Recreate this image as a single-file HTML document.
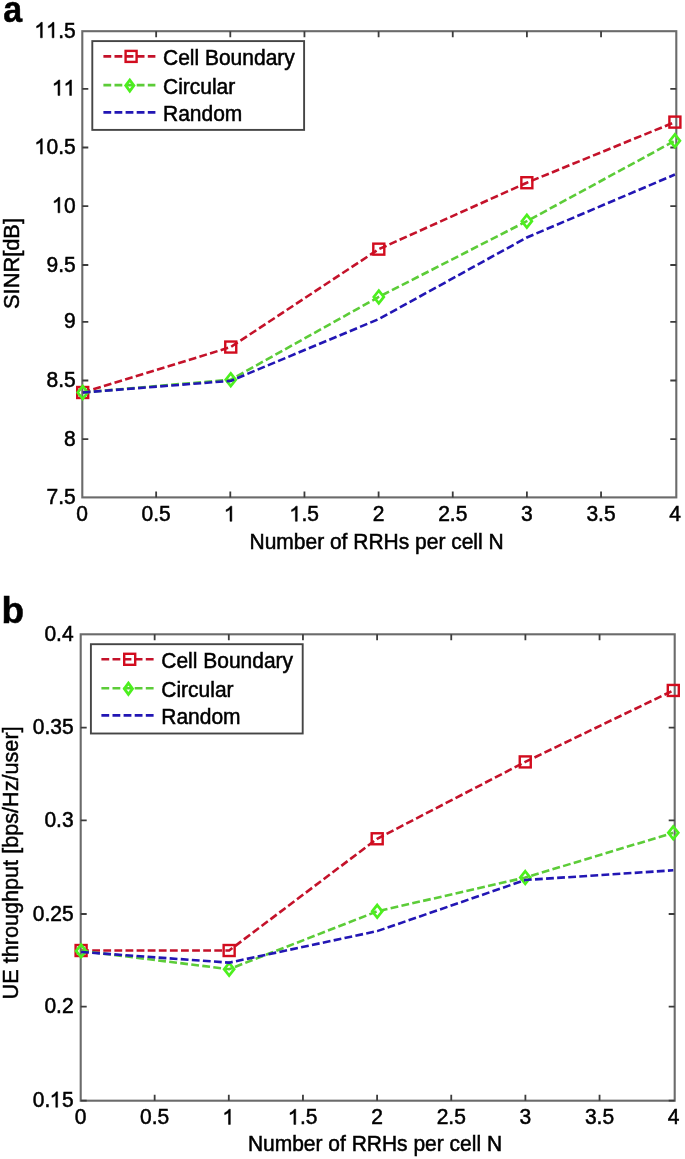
<!DOCTYPE html>
<html><head><meta charset="utf-8"><style>
html,body{margin:0;padding:0;background:#fff;}
body{width:685px;height:1159px;overflow:hidden;}
svg{display:block;filter:blur(0.3px);font-family:"Liberation Sans",sans-serif;font-kerning:none;}
text{fill:#000;stroke:#000;stroke-width:0.5px;}
text .h{fill:none;stroke:none;}
.g1{fill:#000;stroke:#000;stroke-width:0.5px;}
</style></head><body>
<svg width="685" height="1159" viewBox="0 0 685 1159">
<rect width="685" height="1159" fill="#fff"/>
<rect x="82.3" y="31.2" width="594" height="466.2" fill="none" stroke="#6b6b6b" stroke-width="2.1"/>
<path d="M156.15 497.4V491.4M156.15 31.2V37.2M230.3 497.4V491.4M230.3 31.2V37.2M304.45 497.4V491.4M304.45 31.2V37.2M378.6 497.4V491.4M378.6 31.2V37.2M452.75 497.4V491.4M452.75 31.2V37.2M526.9 497.4V491.4M526.9 31.2V37.2M601.05 497.4V491.4M601.05 31.2V37.2M82.3 439.2H88.3M676.3 439.2H670.3M82.3 380.5H88.3M676.3 380.5H670.3M82.3 321.9H88.3M676.3 321.9H670.3M82.3 265H88.3M676.3 265H670.3M82.3 206.2H88.3M676.3 206.2H670.3M82.3 147.5H88.3M676.3 147.5H670.3M82.3 88.8H88.3M676.3 88.8H670.3" stroke="#3c3c3c" stroke-width="1.8" fill="none"/>
<polyline points="82.7,392.5 230.75,347.05 378.8,249.15 526.85,182.72 674.9,122.11" fill="none" stroke="#c4122a" stroke-width="2.6" stroke-dasharray="7.8 3.3"/>
<rect x="77.2" y="387" width="11" height="11" fill="none" stroke="#d20c1e" stroke-width="2.4"/>
<rect x="225.25" y="341.55" width="11" height="11" fill="none" stroke="#d20c1e" stroke-width="2.4"/>
<rect x="373.3" y="243.65" width="11" height="11" fill="none" stroke="#d20c1e" stroke-width="2.4"/>
<rect x="521.35" y="177.22" width="11" height="11" fill="none" stroke="#d20c1e" stroke-width="2.4"/>
<rect x="669.4" y="116.61" width="11" height="11" fill="none" stroke="#d20c1e" stroke-width="2.4"/>
<polyline points="82.7,392.5 230.75,379.68 378.8,296.93 526.85,221.18 674.9,140.76" fill="none" stroke="#5ccc38" stroke-width="2.6" stroke-dasharray="7.8 3.3"/>
<path d="M82.7 386.2L87.7 392.5L82.7 398.8L77.7 392.5Z" fill="none" stroke="#4cf01e" stroke-width="2.7" stroke-linejoin="miter"/>
<path d="M230.75 373.38L235.75 379.68L230.75 385.98L225.75 379.68Z" fill="none" stroke="#4cf01e" stroke-width="2.7" stroke-linejoin="miter"/>
<path d="M378.8 290.63L383.8 296.93L378.8 303.23L373.8 296.93Z" fill="none" stroke="#4cf01e" stroke-width="2.7" stroke-linejoin="miter"/>
<path d="M526.85 214.88L531.85 221.18L526.85 227.48L521.85 221.18Z" fill="none" stroke="#4cf01e" stroke-width="2.7" stroke-linejoin="miter"/>
<path d="M674.9 134.46L679.9 140.76L674.9 147.06L669.9 140.76Z" fill="none" stroke="#4cf01e" stroke-width="2.7" stroke-linejoin="miter"/>
<polyline points="82.7,392.5 230.75,380.85 378.8,319.08 526.85,237.49 674.9,174.56" fill="none" stroke="#2216b4" stroke-width="2.6" stroke-dasharray="7.8 3.3"/>
<text x="76.16" y="496.48" transform="scale(1,1.05)" font-size="21">0</text>
<text x="141.55" y="496.48" transform="scale(1,1.05)" font-size="21">0.5</text>
<text x="224.46" y="496.48" transform="scale(1,1.05)" font-size="21"><tspan class="h">1</tspan></text><path class="g1" d="M231.84 521.3H230V509.35Q229.33 510 228.31 510.62Q227.28 511.23 226.15 511.56V509.73Q227.79 508.97 228.92 507.95Q230.05 506.93 230.56 506.13H231.84Z"/>
<text x="289.85" y="496.48" transform="scale(1,1.05)" font-size="21"><tspan class="h">1</tspan>.5</text><path class="g1" d="M297.24 521.3H295.39V509.35Q294.72 510 293.7 510.62Q292.67 511.23 291.55 511.56V509.73Q293.19 508.97 294.31 507.95Q295.44 506.93 295.95 506.13H297.24Z"/>
<text x="372.76" y="496.48" transform="scale(1,1.05)" font-size="21">2</text>
<text x="438.15" y="496.48" transform="scale(1,1.05)" font-size="21">2.5</text>
<text x="521.06" y="496.48" transform="scale(1,1.05)" font-size="21">3</text>
<text x="586.45" y="496.48" transform="scale(1,1.05)" font-size="21">3.5</text>
<text x="669.36" y="496.48" transform="scale(1,1.05)" font-size="21">4</text>
<text x="46.61" y="471.03" transform="scale(1,1.07)" font-size="21">7.5</text>
<text x="64.12" y="416.64" transform="scale(1,1.07)" font-size="21">8</text>
<text x="46.61" y="361.78" transform="scale(1,1.07)" font-size="21">8.5</text>
<text x="64.12" y="307.01" transform="scale(1,1.07)" font-size="21">9</text>
<text x="46.61" y="253.83" transform="scale(1,1.07)" font-size="21">9.5</text>
<text x="52.44" y="198.88" transform="scale(1,1.07)" font-size="21"><tspan class="h">1</tspan>0</text><path class="g1" d="M59.82 212.8H57.98V200.62Q57.31 201.28 56.29 201.92Q55.26 202.54 54.13 202.87V201.01Q55.77 200.24 56.9 199.2Q58.03 198.15 58.54 197.34H59.82Z"/>
<text x="34.93" y="144.02" transform="scale(1,1.07)" font-size="21"><tspan class="h">1</tspan>0.5</text><path class="g1" d="M42.31 154.1H40.47V141.92Q39.8 142.58 38.77 143.22Q37.75 143.84 36.62 144.17V142.31Q38.26 141.54 39.39 140.5Q40.52 139.45 41.03 138.64H42.31Z"/>
<text x="52.44" y="89.16" transform="scale(1,1.07)" font-size="21"><tspan class="h">1</tspan><tspan class="h">1</tspan></text><path class="g1" d="M59.82 95.4H57.98V83.22Q57.31 83.88 56.29 84.52Q55.26 85.14 54.13 85.47V83.61Q55.77 82.84 56.9 81.8Q58.03 80.75 58.54 79.94H59.82Z"/><path class="g1" d="M71.5 95.4H69.66V83.22Q68.99 83.88 67.97 84.52Q66.94 85.14 65.81 85.47V83.61Q67.45 82.84 68.58 81.8Q69.71 80.75 70.22 79.94H71.5Z"/>
<text x="34.93" y="35.33" transform="scale(1,1.07)" font-size="21"><tspan class="h">1</tspan><tspan class="h">1</tspan>.5</text><path class="g1" d="M42.31 37.8H40.47V25.62Q39.8 26.28 38.77 26.92Q37.75 27.54 36.62 27.87V26.01Q38.26 25.24 39.39 24.2Q40.52 23.15 41.03 22.34H42.31Z"/><path class="g1" d="M53.99 37.8H52.14V25.62Q51.48 26.28 50.45 26.92Q49.43 27.54 48.3 27.87V26.01Q49.94 25.24 51.07 24.2Q52.2 23.15 52.71 22.34H53.99Z"/>
<text x="249.5" y="532.62" transform="scale(1,1.03)" font-size="21">Number of RRHs per cell N</text>
<text transform="translate(19.0,263.5) rotate(-90)" x="0" y="0" font-size="22" text-anchor="middle" textLength="91" lengthAdjust="spacingAndGlyphs">SINR[dB]</text>
<text transform="translate(3.35,21.5) scale(0.92,1)" x="0" y="0" font-size="37" font-weight="bold">a</text>
<rect x="92.3" y="41.1" width="211.8" height="88.8" fill="#fff" stroke="#454545" stroke-width="1.9"/>
<line x1="103.4" y1="56.4" x2="155.4" y2="56.4" stroke="#c4122a" stroke-width="2.6" stroke-dasharray="7.8 3.3"/>
<rect x="125.6" y="50.9" width="11" height="11" fill="none" stroke="#d20c1e" stroke-width="2.4"/>
<text x="163" y="63.4" transform="scale(1,1.03)" font-size="21">Cell Boundary</text>
<line x1="103.4" y1="85.1" x2="155.4" y2="85.1" stroke="#5ccc38" stroke-width="2.6" stroke-dasharray="7.8 3.3"/>
<path d="M129.8 80L133.9 85.6L129.8 91.2L125.7 85.6Z" fill="none" stroke="#4cf01e" stroke-width="2.8" stroke-linejoin="miter"/>
<text x="163" y="91.26" transform="scale(1,1.03)" font-size="21">Circular</text>
<line x1="103.4" y1="112.4" x2="155.4" y2="112.4" stroke="#2216b4" stroke-width="2.6" stroke-dasharray="7.8 3.3"/>
<text x="163" y="117.77" transform="scale(1,1.03)" font-size="21">Random</text>
<rect x="80.7" y="634.3" width="594" height="466.4" fill="none" stroke="#6b6b6b" stroke-width="2.1"/>
<path d="M154.65 1100.7V1094.7M154.65 634.3V640.3M228.8 1100.7V1094.7M228.8 634.3V640.3M302.95 1100.7V1094.7M302.95 634.3V640.3M377.1 1100.7V1094.7M377.1 634.3V640.3M451.25 1100.7V1094.7M451.25 634.3V640.3M525.4 1100.7V1094.7M525.4 634.3V640.3M599.55 1100.7V1094.7M599.55 634.3V640.3M80.7 1100.7H86.7M674.7 1100.7H668.7M80.7 1006.6H86.7M674.7 1006.6H668.7M80.7 914H86.7M674.7 914H668.7M80.7 820.4H86.7M674.7 820.4H668.7M80.7 727.7H86.7M674.7 727.7H668.7" stroke="#3c3c3c" stroke-width="1.8" fill="none"/>
<polyline points="81.1,950.52 229.15,950.52 377.2,838.77 525.25,761.91 673.3,690.45" fill="none" stroke="#c4122a" stroke-width="2.6" stroke-dasharray="7.8 3.3"/>
<rect x="75.6" y="945.02" width="11" height="11" fill="none" stroke="#d20c1e" stroke-width="2.4"/>
<rect x="223.65" y="945.02" width="11" height="11" fill="none" stroke="#d20c1e" stroke-width="2.4"/>
<rect x="371.7" y="833.27" width="11" height="11" fill="none" stroke="#d20c1e" stroke-width="2.4"/>
<rect x="519.75" y="756.41" width="11" height="11" fill="none" stroke="#d20c1e" stroke-width="2.4"/>
<rect x="667.8" y="684.95" width="11" height="11" fill="none" stroke="#d20c1e" stroke-width="2.4"/>
<polyline points="81.1,950.89 229.15,969.18 377.2,911.34 525.25,877.57 673.3,832.8" fill="none" stroke="#5ccc38" stroke-width="2.6" stroke-dasharray="7.8 3.3"/>
<path d="M81.1 944.59L86.1 950.89L81.1 957.19L76.1 950.89Z" fill="none" stroke="#4cf01e" stroke-width="2.7" stroke-linejoin="miter"/>
<path d="M229.15 962.88L234.15 969.18L229.15 975.48L224.15 969.18Z" fill="none" stroke="#4cf01e" stroke-width="2.7" stroke-linejoin="miter"/>
<path d="M377.2 905.04L382.2 911.34L377.2 917.64L372.2 911.34Z" fill="none" stroke="#4cf01e" stroke-width="2.7" stroke-linejoin="miter"/>
<path d="M525.25 871.27L530.25 877.57L525.25 883.87L520.25 877.57Z" fill="none" stroke="#4cf01e" stroke-width="2.7" stroke-linejoin="miter"/>
<path d="M673.3 826.5L678.3 832.8L673.3 839.1L668.3 832.8Z" fill="none" stroke="#4cf01e" stroke-width="2.7" stroke-linejoin="miter"/>
<polyline points="81.1,952.01 229.15,962.65 377.2,931.12 525.25,880 673.3,870.3" fill="none" stroke="#2216b4" stroke-width="2.6" stroke-dasharray="7.8 3.3"/>
<text x="74.66" y="1070.86" transform="scale(1,1.05)" font-size="21">0</text>
<text x="140.05" y="1070.86" transform="scale(1,1.05)" font-size="21">0.5</text>
<text x="222.96" y="1070.86" transform="scale(1,1.05)" font-size="21"><tspan class="h">1</tspan></text><path class="g1" d="M230.34 1124.4H228.5V1112.45Q227.83 1113.1 226.81 1113.72Q225.78 1114.33 224.65 1114.66V1112.83Q226.29 1112.07 227.42 1111.05Q228.55 1110.03 229.06 1109.23H230.34Z"/>
<text x="288.35" y="1070.86" transform="scale(1,1.05)" font-size="21"><tspan class="h">1</tspan>.5</text><path class="g1" d="M295.74 1124.4H293.89V1112.45Q293.22 1113.1 292.2 1113.72Q291.17 1114.33 290.05 1114.66V1112.83Q291.69 1112.07 292.81 1111.05Q293.94 1110.03 294.45 1109.23H295.74Z"/>
<text x="371.26" y="1070.86" transform="scale(1,1.05)" font-size="21">2</text>
<text x="436.65" y="1070.86" transform="scale(1,1.05)" font-size="21">2.5</text>
<text x="519.56" y="1070.86" transform="scale(1,1.05)" font-size="21">3</text>
<text x="584.95" y="1070.86" transform="scale(1,1.05)" font-size="21">3.5</text>
<text x="667.86" y="1070.86" transform="scale(1,1.05)" font-size="21">4</text>
<text x="32.73" y="1034.86" transform="scale(1,1.07)" font-size="21">0.<tspan class="h">1</tspan>5</text><path class="g1" d="M57.62 1107.3H55.78V1095.12Q55.11 1095.78 54.09 1096.42Q53.06 1097.04 51.93 1097.37V1095.51Q53.57 1094.74 54.7 1093.7Q55.83 1092.65 56.34 1091.84H57.62Z"/>
<text x="44.41" y="946.92" transform="scale(1,1.07)" font-size="21">0.2</text>
<text x="32.73" y="860.37" transform="scale(1,1.07)" font-size="21">0.25</text>
<text x="44.41" y="772.9" transform="scale(1,1.07)" font-size="21">0.3</text>
<text x="32.73" y="686.26" transform="scale(1,1.07)" font-size="21">0.35</text>
<text x="44.41" y="598.97" transform="scale(1,1.07)" font-size="21">0.4</text>
<text x="247.9" y="1117.96" transform="scale(1,1.03)" font-size="21">Number of RRHs per cell N</text>
<text transform="translate(18.2,862.9) rotate(-90)" x="0" y="0" font-size="22" text-anchor="middle" textLength="273" lengthAdjust="spacingAndGlyphs">UE throughput [bps/Hz/user]</text>
<text x="1.6" y="622.6" font-size="37" font-weight="bold">b</text>
<rect x="90.9" y="644.2" width="211.8" height="89.3" fill="#fff" stroke="#454545" stroke-width="1.9"/>
<line x1="101.4" y1="659.3" x2="154.0" y2="659.3" stroke="#c4122a" stroke-width="2.6" stroke-dasharray="7.8 3.3"/>
<rect x="124.2" y="653.8" width="11" height="11" fill="none" stroke="#d20c1e" stroke-width="2.4"/>
<text x="161.3" y="648.74" transform="scale(1,1.03)" font-size="21">Cell Boundary</text>
<line x1="101.4" y1="688.2" x2="154.0" y2="688.2" stroke="#5ccc38" stroke-width="2.6" stroke-dasharray="7.8 3.3"/>
<path d="M128.4 683.1L132.5 688.7L128.4 694.3L124.3 688.7Z" fill="none" stroke="#4cf01e" stroke-width="2.8" stroke-linejoin="miter"/>
<text x="161.3" y="676.8" transform="scale(1,1.03)" font-size="21">Circular</text>
<line x1="101.4" y1="715.4" x2="154.0" y2="715.4" stroke="#2216b4" stroke-width="2.6" stroke-dasharray="7.8 3.3"/>
<text x="161.3" y="703.2" transform="scale(1,1.03)" font-size="21">Random</text>
</svg>
</body></html>
